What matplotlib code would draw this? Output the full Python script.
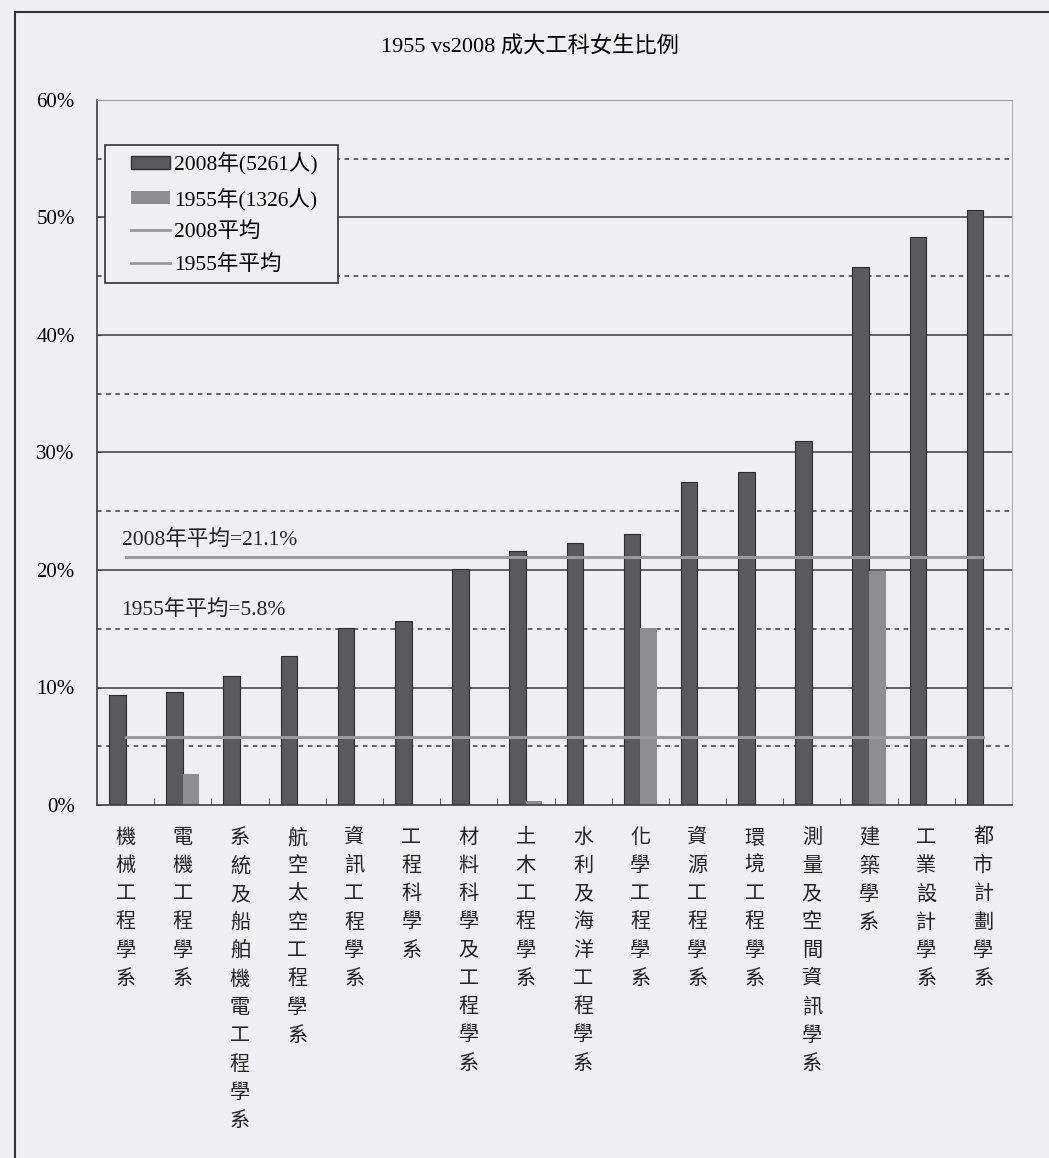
import numpy as np
import matplotlib
matplotlib.use('Agg')
import matplotlib.pyplot as plt
from matplotlib.patches import Patch, Rectangle
from matplotlib.lines import Line2D

plt.rcParams['font.family'] = ['Liberation Serif', 'Noto Sans CJK TC', 'DejaVu Sans']

# data
departments = ['機械工程學系', '電機工程學系', '系統及船舶機電工程學系', '航空太空工程學系',
               '資訊工程學系', '工程科學系', '材料科學及工程學系', '土木工程學系',
               '水利及海洋工程學系', '化學工程學系', '資源工程學系', '環境工程學系',
               '測量及空間資訊學系', '建築學系', '工業設計學系', '都市計劃學系']
ratio_2008 = [9.4, 9.6, 11.0, 12.7, 15.1, 15.7, 20.1, 21.6,
              22.3, 23.1, 27.5, 28.3, 31.0, 45.8, 48.3, 50.6]
ratio_1955 = [0, 2.6, 0, 0, 0, 0, 0, 0.3,
              0, 15.1, 0, 0, 0, 19.9, 0, 0]
avg_2008 = 21.1
avg_1955 = 5.8
yticks = [0, 10, 20, 30, 40, 50, 60]

bg = '#efeff3'
dark = '#5a5a5e'
light = '#8e8e92'
avg_color = '#9a9a9e'
grid_color = '#3c3c40'

W, H = 1049, 1158
fig = plt.figure(figsize=(W / 100, H / 100), dpi=100, facecolor=bg)
ax = fig.add_axes([97 / W, 1 - 805 / H, (1012 - 97) / W, (805 - 100) / H])
ax.set_facecolor(bg)

n = len(departments)
x = np.arange(n)
w = 0.29

# gridlines
for v in range(5, 60, 10):
    ax.axhline(v, color=grid_color, lw=1.1, ls=(0, (3, 3)), zorder=1)
for v in range(10, 60, 10):
    ax.axhline(v, color=grid_color, lw=1.1, zorder=1)

ax.bar(x - w / 2, ratio_2008, w, color=dark, edgecolor='#2e2e32', lw=0.8, zorder=2)
ax.bar(x + w / 2, ratio_1955, w, color=light, edgecolor='none', zorder=2)

ax.plot([x[0], x[-1]], [avg_2008, avg_2008], color=avg_color, lw=2.2, zorder=3)
ax.plot([x[0], x[-1]], [avg_1955, avg_1955], color=avg_color, lw=2.2, zorder=3)

ax.text(-0.07, 22.6, f'2008年平均={avg_2008}%', fontsize=15.5, color='#222222', va='center')
ax.text(-0.07, 16.6, f'1955年平均={avg_1955}%', fontsize=15.5, color='#222222', va='center')

ax.set_xlim(-0.5, n - 0.5)
ax.set_ylim(0, 60)
ax.set_yticks(yticks)
ax.set_yticklabels([f'{v}%' for v in yticks], fontsize=15)
ax.tick_params(axis='y', direction='in', length=3, color=grid_color, pad=16)

ax.set_xticks(x)
ax.set_xticklabels(['\n'.join(d) for d in departments], fontsize=14.5,
                   linespacing=1.66, va='top', color='#222222')
ax.tick_params(axis='x', length=0, pad=17)
ax.set_xticks(np.arange(0.5, n - 0.5), minor=True)
ax.tick_params(axis='x', which='minor', direction='in', length=5, color=grid_color)

for s in ['left', 'bottom']:
    ax.spines[s].set_color(grid_color)
    ax.spines[s].set_linewidth(1.2)
ax.spines['top'].set_color('#9a9a9e')
ax.spines['right'].set_color('#b0b0b4')

fig.text(530 / W, 1 - 47 / H, '1955 vs2008 成大工科女生比例', ha='center', va='center', fontsize=16)

# legend: frame drawn separately to match the wide left padding
def ax_xy(px, py):
    return (px - 97) / (1012 - 97), (805 - py) / (805 - 100)

x0, y0 = ax_xy(105, 283)
x1, y1 = ax_xy(338, 145)
ax.add_patch(Rectangle((x0, y0), x1 - x0, y1 - y0, transform=ax.transAxes,
                       facecolor=bg, edgecolor='#333333', lw=1.2, zorder=5))

handles = [Patch(facecolor=dark, edgecolor='#2e2e32'),
           Patch(facecolor=light, edgecolor='none'),
           Line2D([], [], color=avg_color, lw=2),
           Line2D([], [], color=avg_color, lw=2)]
labels = ['2008年(5261人)', '1955年(1326人)', '2008平均', '1955年平均']
lx, ly = ax_xy(131, 152)
leg = ax.legend(handles, labels, loc='upper left', bbox_to_anchor=(lx, ly),
                fontsize=15.5, frameon=False, handlelength=1.8, handleheight=0.55,
                handletextpad=0.2, labelspacing=0.58, borderpad=0, borderaxespad=0)
leg.set_zorder(6)

# scanned page border
fig.add_artist(Rectangle((15 / W, -0.01), 1.0, 1 - 12 / H + 0.01, transform=fig.transFigure,
                         fill=False, edgecolor='#333333', lw=1.5))

fig.savefig('out.png', dpi=100, facecolor=bg)
